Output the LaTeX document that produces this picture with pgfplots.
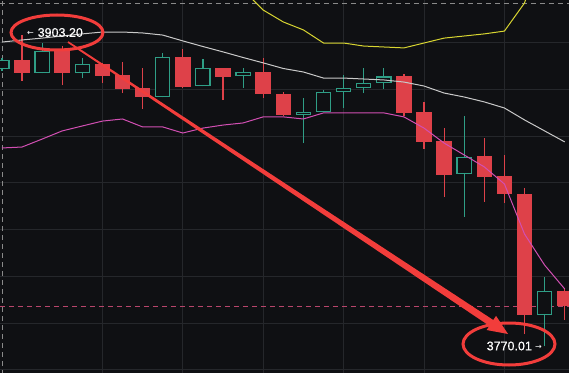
\documentclass[border=0pt]{standalone}
\usepackage{fontspec}
\setmainfont{Liberation Sans}
\newfontfamily\labelfont[FakeBold=0.4]{Liberation Sans}
\newfontfamily\arrowfont{DejaVu Sans}
\usepackage{pgfplots}
\usepackage{pgfplotstable}
\pgfplotsset{compat=1.18}

\definecolor{bg}{HTML}{0F1013}
\definecolor{gridc}{HTML}{25272B}
\definecolor{candred}{HTML}{DE4149}
\definecolor{candgreen}{HTML}{2F9E86}
\definecolor{bbyellow}{HTML}{D8D531}
\definecolor{bbwhite}{HTML}{C9C9C9}
\definecolor{bbpink}{HTML}{D24FB3}
\definecolor{annot}{HTML}{F23D3B}
\definecolor{lastp}{HTML}{B8456B}
\definecolor{dashw}{HTML}{8A8A8A}

% red (falling) candles: index, open, high, low, close
\pgfplotstableread{
i o h l c
1 3892.5 3903.2 3883.6 3887.0
3 3896.4 3898.5 3881.8 3887.0
5 3890.8 3891.2 3882.7 3885.7
6 3886.1 3891.7 3878.4 3880.1
7 3880.6 3889.1 3871.6 3876.7
9 3893.8 3897.2 3880.6 3881.0
11 3889.1 3889.3 3875.4 3885.3
13 3887.4 3893.4 3876.3 3878.0
14 3878.0 3878.8 3868.6 3869.0
20 3885.7 3886.5 3868.6 3869.9
21 3870.3 3874.6 3854.5 3857.5
22 3857.9 3863.4 3833.9 3843.3
24 3851.5 3859.2 3831.8 3842.5
25 3842.9 3851.9 3831.4 3835.2
26 3835.2 3837.8 3775.3 3783.4
28 3793.7 3795.0 3781.3 3787.3
}\redtab

% green (rising) candles
\pgfplotstableread{
i o h l c
0 3888.7 3893.4 3887.8 3892.5
2 3887.0 3899.8 3886.8 3896.4
4 3887.0 3893.4 3884.8 3890.8
8 3876.7 3895.5 3876.5 3893.8
10 3881.4 3893.0 3881.2 3889.1
12 3885.7 3889.1 3880.6 3887.4
15 3869.0 3876.3 3857.0 3870.3
16 3870.3 3879.5 3870.2 3878.8
17 3878.8 3886.1 3872.0 3880.6
18 3880.6 3889.1 3878.4 3882.7
19 3882.7 3888.9 3880.1 3885.5
23 3843.8 3868.6 3825.4 3851.0
27 3783.4 3799.7 3770.01 3793.7
}\greentab

% Bollinger bands: upper, middle, lower
\pgfplotstableread{
i up mid low
0 3945.6 3900.2 3854.9
1 3946.9 3901.1 3855.3
2 3945.2 3901.9 3858.7
3 3943.4 3902.8 3862.2
4 3943.0 3903.7 3864.3
5 3942.6 3904.5 3866.4
6 3941.7 3904.5 3867.3
7 3944.3 3904.1 3863.9
8 3942.6 3903.2 3863.9
9 3940.0 3900.7 3861.3
10 3933.2 3898.3 3863.4
11 3927.2 3896.0 3864.7
12 3922.5 3893.6 3865.6
13 3913.9 3891.3 3868.2
14 3908.8 3888.9 3868.2
15 3905.4 3887.4 3867.3
16 3899.8 3884.8 3869.9
17 3899.8 3884.8 3869.9
18 3898.5 3884.4 3869.9
19 3898.1 3884.0 3869.9
20 3897.7 3883.1 3868.2
21 3899.8 3881.4 3863.4
22 3901.9 3878.4 3857.0
23 3902.8 3876.7 3851.9
24 3903.7 3874.6 3846.8
25 3904.9 3872.0 3839.5
26 3916.9 3866.9 3818.1
27 3943.9 3862.2 3804.8
28 3960.0 3857.5 3794.6
}\bands

\begin{document}
\begin{tikzpicture}
\begin{axis}[
  scale only axis, width=569pt, height=373pt,
  xmin=-0.0945, xmax=28.214, ymin=3758.63, ymax=3918.20,
  axis background/.style={fill=bg},
  axis line style={draw=none},
  xtick={5,9,13,17,21,25}, ytick={3760,3780,...,3900},
  xticklabels={}, yticklabels={},
  major tick length=0pt,
  grid=major, major grid style={draw=gridc, line width=0.9pt},
  clip=true,
  candle/.style={draw=none, mark=none, forget plot,
    error bars/.cd, y dir=plus, y explicit, error mark=none},
]
% dashed guide lines
\addplot[dashw, line width=0.8pt, dash pattern=on 5pt off 4pt, forget plot] coordinates {(-1,3916.9) (30,3916.9)};
\addplot[dashw, line width=0.8pt, dash pattern=on 5pt off 4pt, forget plot] coordinates {(0.04,3700) (0.04,3950)};
\addplot[lastp, line width=0.9pt, dash pattern=on 5pt off 4pt, forget plot] coordinates {(-1,3786.9) (30,3786.9)};

% wicks
\addplot[candle, error bar style={draw=candred, line width=1.2pt}]
  table[x=i, y=l, y error plus expr=\thisrow{h}-\thisrow{l}] {\redtab};
\addplot[candle, error bar style={draw=candgreen, line width=1.2pt}]
  table[x=i, y=l, y error plus expr=\thisrow{h}-\thisrow{l}] {\greentab};

% red bodies
\addplot[candle, error bar style={draw=candred, line width=15.5pt}]
  table[x=i, y=c, y error plus expr=\thisrow{o}-\thisrow{c}] {\redtab};

% green hollow bodies
\addplot[candle, error bar style={draw=candgreen, line width=15.5pt}]
  table[x=i, y=o, y error plus expr=\thisrow{c}-\thisrow{o}] {\greentab};
\addplot[candle, error bar style={draw=bg, line width=12.9pt}]
  table[x=i, y expr=\thisrow{o}+0.55, y error plus expr=\thisrow{c}-\thisrow{o}-1.1] {\greentab};

% bands
\addplot[bbyellow, line width=1pt, mark=none] table[x=i, y=up] {\bands};
\addplot[bbwhite, line width=1pt, mark=none] table[x=i, y=mid] {\bands};
\addplot[bbpink, line width=1pt, mark=none] table[x=i, y=low] {\bands};
\end{axis}

% annotations (pixel coordinates from the top-left corner)
\begin{scope}[shift={(current axis.north west)}, x=1pt, y=-1pt]
  \fill[annot] (68.50,41.30) -- (493.28,320.02) -- (496.04,315.86) -- (508,334)
     -- (486.64,330.02) -- (489.40,325.86) -- (67.50,42.70) -- cycle;
  \draw[annot, line width=3pt] (57,32.5) ellipse [x radius=46pt, y radius=17.5pt];
  \draw[annot, line width=3pt] (509,344) ellipse [x radius=46pt, y radius=21pt];
  \node[anchor=west, inner sep=0pt, text=white, font=\labelfont\fontsize{12.5}{12.5}\selectfont] at (37.5,32.5) {3903.20};
  \node[inner sep=0pt, text=white, font=\arrowfont\fontsize{8}{8}\selectfont] at (30.5,33) {←};
  \node[anchor=west, inner sep=0pt, text=white, font=\labelfont\fontsize{12.5}{12.5}\selectfont] at (486.5,346) {3770.01};
  \node[inner sep=0pt, text=white, font=\arrowfont\fontsize{8}{8}\selectfont] at (538.5,347) {→};
\end{scope}

\pgfresetboundingbox
\path[use as bounding box] (current axis.south west) rectangle (current axis.north east);
\end{tikzpicture}
\end{document}
